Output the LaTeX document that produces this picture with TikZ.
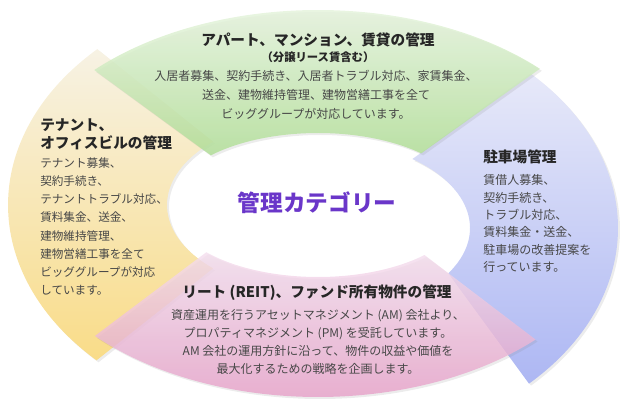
\documentclass[tikz,border=0pt]{standalone}
\usepackage{fontspec}
\setmainfont{Noto Sans CJK JP}
\usetikzlibrary{shadows}

\definecolor{yeltop}{HTML}{F7F2E4}
\definecolor{yelbot}{HTML}{F9DC88}
\definecolor{grntop}{HTML}{E9F5E2}
\definecolor{grnbot}{HTML}{B2DF98}
\definecolor{blutop}{HTML}{E7E9F9}
\definecolor{blubot}{HTML}{ADB7F3}
\definecolor{pnktop}{HTML}{F4DEEE}
\definecolor{pnkbot}{HTML}{E69CC6}
\definecolor{catpurple}{HTML}{6A36C9}

\tikzset{
  segment/.style={drop shadow={opacity=0.15,shadow xshift=1.5pt,shadow yshift=-1.5pt}},
  head/.style={inner sep=0pt,text=black!85,font=\fontsize{11}{13.5}\selectfont\bfseries},
  body/.style={inner sep=0pt,text=black!72,font=\fontsize{9}{14}\selectfont},
}

\begin{document}
\begin{tikzpicture}[x=0.75pt,y=0.75pt]
  \useasboundingbox (0,0) rectangle (635,410);
  \coordinate (c) at (318,205);
  \coordinate (cb) at (318,182);
  % left band
  \shade[segment,top color=yeltop,bottom color=yelbot]
    ([shift={(c)}]135.4:310 and 222) arc[start angle=135.4,end angle=224.4,x radius=310,y radius=222]
    -- ([shift={(c)}]226:151 and 88) arc[start angle=226,end angle=134,x radius=151,y radius=88] -- cycle;
  % right band
  \shade[segment,top color=blutop,bottom color=blubot]
    ([shift={(cb)}]-45.3:300 and 219) arc[start angle=-45.3,end angle=44.9,x radius=300,y radius=219]
    -- ([shift={(cb)}]51.6:152 and 88) arc[start angle=51.6,end angle=-31,x radius=152,y radius=88] -- cycle;
  % top band
  \shade[segment,top color=grntop,bottom color=grnbot,opacity=0.85]
    ([shift={(c)}]44.3:310 and 195) arc[start angle=44.3,end angle=136.2,x radius=310,y radius=195]
    -- ([shift={(c)}]136.4:148 and 72) arc[start angle=136.4,end angle=45.8,x radius=148,y radius=72] -- cycle;
  % bottom band
  \shade[segment,top color=pnktop,bottom color=pnkbot,opacity=0.8]
    ([shift={(c)}]223:305 and 192) arc[start angle=223,end angle=315.5,x radius=305,y radius=192]
    -- ([shift={(c)}]316:148 and 72) arc[start angle=316,end angle=221,x radius=148,y radius=72] -- cycle;

  % top band texts
  \node[head] (apthead) at (318,370) {アパート、マンション、賃貸の管理};
  \node[head,font=\fontsize{8.5}{11}\selectfont\bfseries] (aptsub) at (318,353) {（分譲リース賃含む）};
  \node[body,align=center] (aptbody) at (316,315)
    {入居者募集、契約手続き、入居者トラブル対応、家賃集金、\\
     送金、建物維持管理、建物営繕工事を全て\\
     ビッググループが対応しています。};

  % left band texts
  \node[head,align=left,anchor=west] (tenhead) at (40,276)
    {テナント、\\オフィスビルの管理};
  \node[body,align=left,anchor=west,font=\fontsize{8.7}{13.7}\selectfont] (tenbody) at (40,183.5)
    {テナント募集、\\契約手続き、\\テナントトラブル対応、\\賃料集金、送金、\\
     建物維持管理、\\建物営繕工事を全て\\ビッググループが対応\\しています。};

  % right band texts
  \node[head,anchor=west] (parkhead) at (483,253) {駐車場管理};
  \node[body,align=left,anchor=west,font=\fontsize{9}{13}\selectfont] (parkbody) at (483,186.5)
    {賃借人募集、\\契約手続き、\\トラブル対応、\\賃料集金・送金、\\駐車場の改善提案を\\行っています。};

  % bottom band texts
  \node[head] (reithead) at (317,117) {リート (REIT)、ファンド所有物件の管理};
  \node[body,align=center,font=\fontsize{9}{13.5}\selectfont] (reitbody) at (318,68.5)
    {資産運用を行うアセットマネジメント (AM) 会社より、\\
     プロパティマネジメント (PM) を受託しています。\\
     AM 会社の運用方針に沿って、物件の収益や価値を\\
     最大化するための戦略を企画します。};

  % centre
  \node[inner sep=0pt,text=catpurple,font=\fontsize{17}{19}\selectfont\bfseries] (cat) at (317,207)
    {管理カテゴリー};
\end{tikzpicture}
\end{document}
